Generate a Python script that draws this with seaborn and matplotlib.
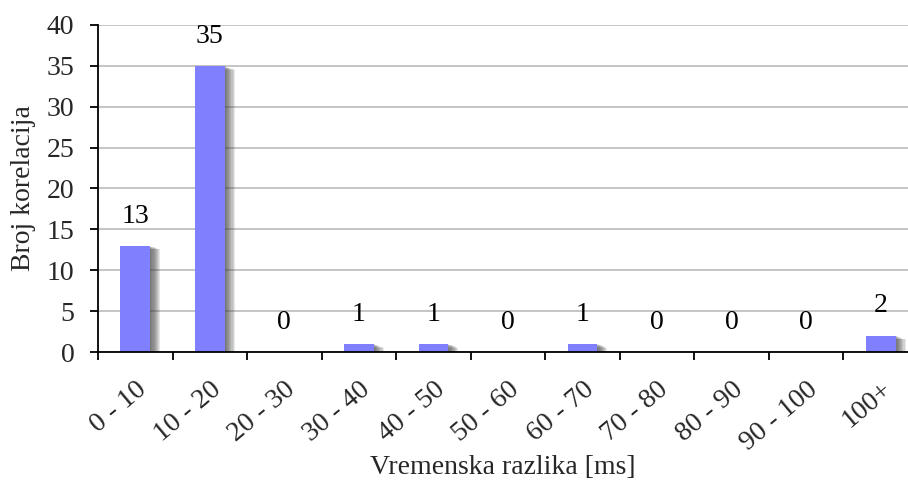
import matplotlib
matplotlib.use("Agg")
import matplotlib.pyplot as plt
import matplotlib.patheffects as pe
import seaborn as sns
import pandas as pd
import numpy as np

categories = ["0 - 10", "10 - 20", "20 - 30", "30 - 40", "40 - 50", "50 - 60",
              "60 - 70", "70 - 80", "80 - 90", "90 - 100", "100+"]
values = [13, 35, 0, 1, 1, 0, 1, 0, 0, 0, 2]

sns.set_theme(style="white")
plt.rcParams['font.family'] = ['Liberation Serif', 'DejaVu Serif']

df = pd.DataFrame({"cat": categories, "val": values})

fig = plt.figure(figsize=(9.08, 4.86), dpi=100)
W, H = 908, 486
left, right, top, bottom = 98, 918, 25, 352
ax = fig.add_axes([left / W, 1 - bottom / H, (right - left) / W, (bottom - top) / H])

sns.barplot(data=df, x="cat", y="val", color="#8080ff", saturation=1, width=0.4, ax=ax, zorder=3)
shadow = []
for k in range(1, 10):
    shadow.append(pe.SimplePatchShadow(offset=(k * 0.8, -k * 0.3), shadow_rgbFace="#404040", alpha=0.12))
for p in ax.patches:
    p.set_path_effects(shadow + [pe.Normal()])
    p.set_edgecolor("none")

ax.set_xlim(-0.5, len(categories) - 0.5)
ax.set_ylim(0, 40)
ax.set_yticks(range(0, 41, 5))
ax.yaxis.grid(True, color="#c0c0c0", linewidth=1.3, zorder=0)
ax.set_axisbelow(True)

for s in ["top", "right"]:
    ax.spines[s].set_visible(False)
for s in ["left", "bottom"]:
    ax.spines[s].set_color("black")
    ax.spines[s].set_linewidth(1.3)
    ax.spines[s].set_zorder(5)

fs = 20
ax.tick_params(axis="y", which="both", left=True, length=6, width=1.3, color="black",
               labelsize=fs, pad=11, direction="out")
ax.set_xticks(np.arange(len(categories)))
ax.set_xticklabels(categories, rotation=40, ha="right", rotation_mode="anchor", fontsize=fs)
ax.tick_params(axis="x", which="major", bottom=False, pad=12)
ax.set_xticks(np.arange(len(categories) + 1) - 0.5, minor=True)
ax.tick_params(axis="x", which="minor", bottom=True, length=6, width=1.3, color="black", direction="out")

for i, v in enumerate(values):
    ax.text(i, v + 2.1, str(v), ha="center", va="bottom", fontsize=fs, color="black")

ax.set_xlabel("")
ax.set_ylabel("")
fig.text(503 / W, 1 - 467 / H, "Vremenska razlika [ms]", ha="center", va="center", fontsize=fs)
fig.text(24 / W, 1 - 188 / H, "Broj korelacija", ha="center", va="center", rotation=90, fontsize=fs)

fig.savefig("out.png", dpi=100)
